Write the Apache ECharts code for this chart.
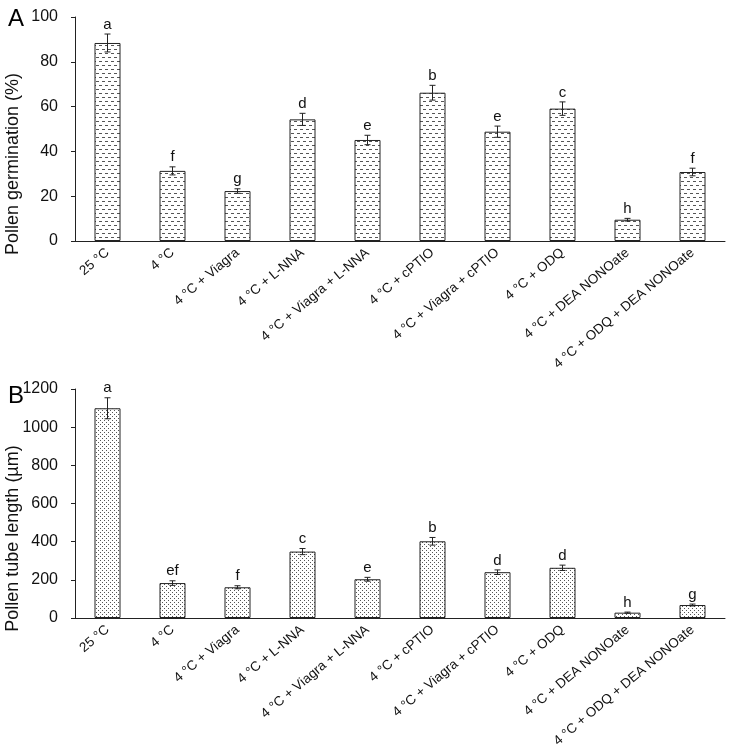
<!DOCTYPE html>
<html><head><meta charset="utf-8">
<script src="https://cdn.jsdelivr.net/npm/echarts@6/dist/echarts.min.js"></script>
<style>html,body{margin:0;padding:0;background:#fff}#c{width:730px;height:747px}</style>
</head><body><div id="c"></div>
<script>
var categories = ['25 °C','4 °C','4 °C + Viagra','4 °C + L-NNA','4 °C + Viagra + L-NNA','4 °C + cPTIO','4 °C + Viagra + cPTIO','4 °C + ODQ','4 °C + DEA NONOate','4 °C + ODQ + DEA NONOate'];
var germination = [88.4, 31.3, 22.3, 54.3, 45.1, 66.2, 48.8, 59.1, 9.5, 30.8];
var germinationErr = [4.0, 1.8, 1.0, 2.7, 2.1, 3.3, 2.5, 3.0, 0.6, 1.7];
var germinationLetters = ['a','f','g','d','e','b','e','c','h','f'];
var tubeLength = [1099, 183, 161, 348, 203, 402, 240, 263, 28, 68];
var tubeErr = [55, 12, 8, 16, 10, 20, 12, 14, 3, 5];
var tubeLetters = ['a','ef','f','c','e','b','d','d','h','g'];
var ticksA = [0,20,40,60,80,100];
var ticksB = [0,200,400,600,800,1000,1200];

function makePattern(type){
  var c = document.createElement('canvas');
  var g;
  if(type==='dash'){
    c.width=6;c.height=8;
    g=c.getContext('2d');
    g.fillStyle='#fff';g.fillRect(0,0,6,8);
    g.fillStyle='#555';
    g.fillRect(0,1,3,1);
    g.fillRect(3,5,3,1);
  } else {
    c.width=4;c.height=4;
    g=c.getContext('2d');
    g.fillStyle='#fff';g.fillRect(0,0,4,4);
    g.fillStyle='#555';
    g.fillRect(0,0,1,1);
    g.fillRect(2,2,1,1);
  }
  return {image:c, repeat:'repeat'};
}

var font = 'Liberation Sans, Arial, sans-serif';

function errSeries(xi, yi, vals, errs, letters){
  return {
    type:'custom', xAxisIndex:xi, yAxisIndex:yi, z:5,
    data: vals.map(function(v,i){return [i, v, errs[i]];}),
    renderItem: function(params, api){
      var i=api.value(0), v=api.value(1), e=api.value(2);
      var top=api.coord([i, v+e]), bot=api.coord([i, v-e]);
      var x=top[0], w=3;
      return {type:'group', children:[
        {type:'line', shape:{x1:x,y1:top[1],x2:x,y2:bot[1]}, style:{stroke:'#222',lineWidth:1}},
        {type:'line', shape:{x1:x-w,y1:top[1],x2:x+w,y2:top[1]}, style:{stroke:'#222',lineWidth:1}},
        {type:'line', shape:{x1:x-w,y1:bot[1],x2:x+w,y2:bot[1]}, style:{stroke:'#222',lineWidth:1}},
        {type:'text', style:{text:letters[params.dataIndex], x:x, y:top[1]-2, textAlign:'center', textVerticalAlign:'bottom', font:'15px '+font, fill:'#111'}}
      ]};
    }
  };
}

function xAxis(gi){
  return {type:'category', gridIndex:gi, data:categories, boundaryGap:true,
    axisLine:{lineStyle:{color:'#222',width:1}},
    axisTick:{inside:true,length:4,lineStyle:{color:'#222'}},
    axisLabel:{rotate:40, interval:0, color:'#111', fontSize:13.5, fontFamily:font, margin:10}};
}
function yAxis(gi, max, interval, ticks, name){
  return {type:'value', gridIndex:gi, min:ticks[0], max:max, interval:interval,
    name:name, nameLocation:'middle', nameGap:53, nameRotate:90, nameMoveOverlap:false,
    nameTextStyle:{fontSize:18, fontFamily:font, color:'#111', padding:[0,70,0,0]},
    axisLine:{show:true,lineStyle:{color:'#222',width:1}},
    axisTick:{show:true,inside:false,length:4,lineStyle:{color:'#222'}},
    splitLine:{show:false},
    axisLabel:{color:'#111', fontSize:16, fontFamily:font, margin:17, formatter:function(v){return String(v);}}};
}

var chart = echarts.init(document.getElementById('c'), null, {renderer:'canvas'});
chart.setOption({
  animation:false,
  backgroundColor:'#fff',
  title:[
    {text:'A', left:3, top:2, textStyle:{fontSize:24, fontWeight:'normal', fontFamily:font, color:'#000'}},
    {text:'B', left:3, top:379, textStyle:{fontSize:24, fontWeight:'normal', fontFamily:font, color:'#000'}}
  ],
  grid:[
    {left:75, right:5, top:17, bottom:506, containLabel:false, outerBoundsMode:'none'},
    {left:75, right:5, top:389, bottom:129, containLabel:false, outerBoundsMode:'none'}
  ],
  xAxis:[xAxis(0), xAxis(1)],
  yAxis:[yAxis(0,ticksA[ticksA.length-1],20,ticksA,'Pollen germination (%)'), yAxis(1,ticksB[ticksB.length-1],200,ticksB,'Pollen tube length (µm)')],
  series:[
    {type:'bar', xAxisIndex:0, yAxisIndex:0, data:germination, barWidth:26,
      itemStyle:{color:makePattern('dash'), borderColor:'#222', borderWidth:1}},
    {type:'bar', xAxisIndex:1, yAxisIndex:1, data:tubeLength, barWidth:26,
      itemStyle:{color:makePattern('dot'), borderColor:'#222', borderWidth:1}},
    errSeries(0,0,germination,germinationErr,germinationLetters),
    errSeries(1,1,tubeLength,tubeErr,tubeLetters)
  ]
});
</script></body></html>
